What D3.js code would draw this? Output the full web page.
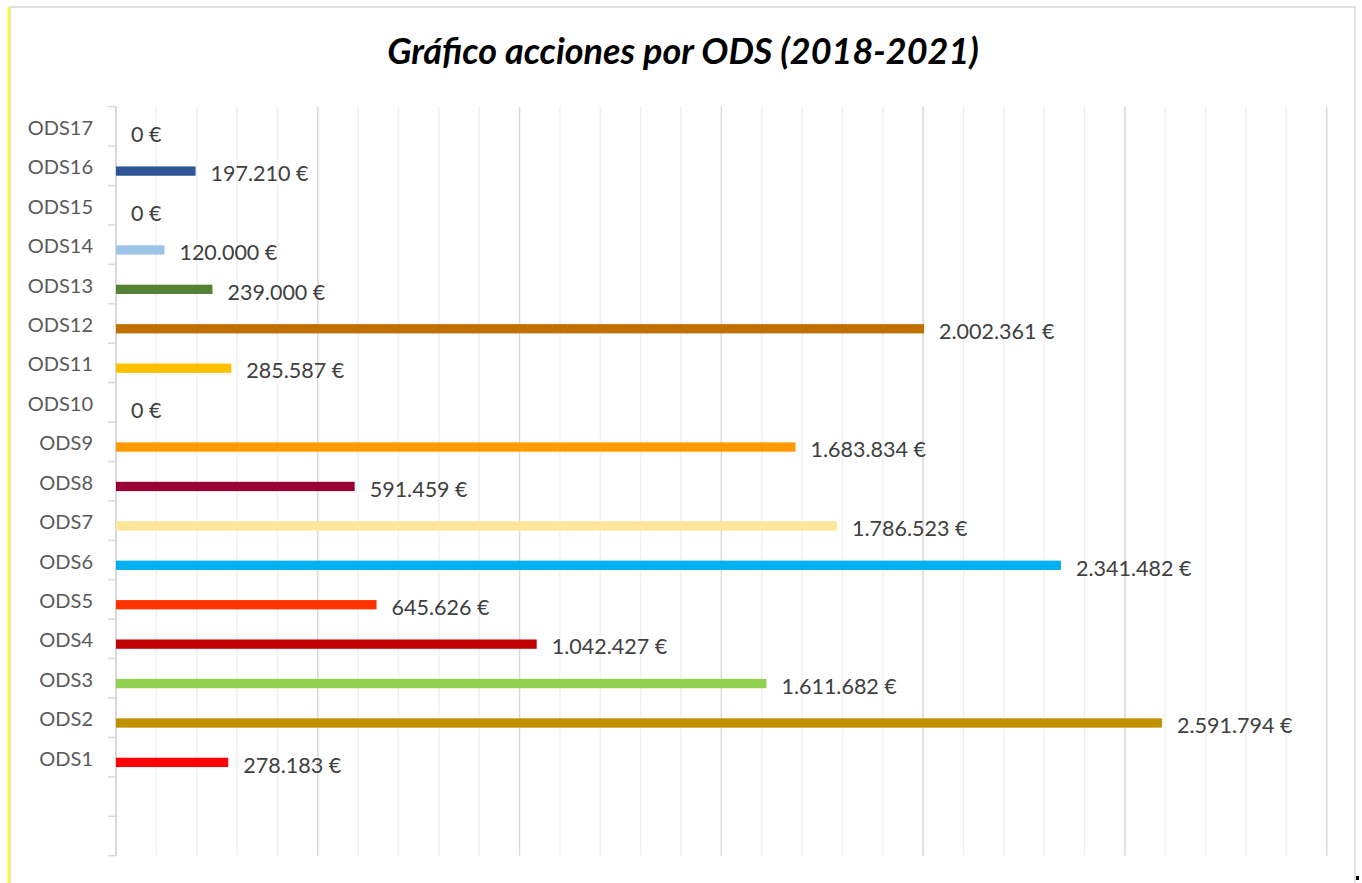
<!DOCTYPE html>
<html>
<head>
<meta charset="utf-8">
<script src="https://cdn.jsdelivr.net/npm/d3@7"></script>
<style>
  html, body { margin: 0; padding: 0; background: #ffffff; }
  svg { display: block; }
</style>
</head>
<body>
<svg id="chart" width="1362" height="883"></svg>
<script>
// ---- data ----
const title = "Gráfico acciones por ODS (2018-2021)";
const categories = ["ODS1","ODS2","ODS3","ODS4","ODS5","ODS6","ODS7","ODS8","ODS9",
                    "ODS10","ODS11","ODS12","ODS13","ODS14","ODS15","ODS16","ODS17"];
const values = [278183, 2591794, 1611682, 1042427, 645626, 2341482, 1786523, 591459,
                1683834, 0, 285587, 2002361, 239000, 120000, 0, 197210, 0];
const colors = ["#FF0000","#BF9000","#92D050","#C00000","#FF3300","#00B0F0","#FFE699",
                "#990033","#FF9900","#FFC000","#FFC000","#BF7000","#548235","#9DC3E6",
                "#2F5597","#2F5597","#2F5597"];
const emptyBands = ["_e1","_e2"];   // two empty category slots below ODS1
const xMax = 3000000;

const svg = d3.select("#chart");
const W = 1362, H = 883;

// frame
svg.append("rect").attr("x", 10).attr("y", 7).attr("width", 1345).attr("height", 900)
  .attr("fill", "#ffffff").attr("stroke", "#d9d9d9").attr("stroke-width", 1.5);
svg.append("line").attr("x1", 8.5).attr("x2", 8.5).attr("y1", 7).attr("y2", H)
  .attr("stroke", "#FFFF00").attr("stroke-width", 2);
svg.append("rect").attr("x", 1356).attr("y", 876).attr("width", 3).attr("height", 4).attr("fill", "#000");

// title
svg.append("text").attr("x", 683).attr("y", 64)
  .attr("text-anchor", "middle")
  .attr("font-family", "Lato, 'Open Sans', sans-serif")
  .attr("font-weight", "bold").attr("font-style", "italic")
  .attr("font-size", 36).attr("fill", "#000000")
  .text(title);

// scales
const plotLeft = 116, plotRight = 1326.7, plotTop = 106.7, plotBottom = 855.7;
const x = d3.scaleLinear().domain([0, xMax]).range([plotLeft, plotRight]);
const bandDomain = categories.slice().reverse().concat(emptyBands);
const y = d3.scaleBand().domain(bandDomain).range([plotTop, plotBottom]).paddingInner(0).paddingOuter(0);

// gridlines
const gridVals = d3.range(100000, xMax + 1, 100000);
svg.append("g").selectAll("line").data(gridVals).join("line")
  .attr("x1", d => x(d)).attr("x2", d => x(d))
  .attr("y1", plotTop).attr("y2", plotBottom)
  .attr("stroke", d => (d % 500000 === 0) ? "#d9d9d9" : "#f0f0f0")
  .attr("stroke-width", 1.5);

// y axis line + boundary ticks
svg.append("line").attr("x1", plotLeft).attr("x2", plotLeft)
  .attr("y1", plotTop).attr("y2", plotBottom)
  .attr("stroke", "#d9d9d9").attr("stroke-width", 2);
const boundaries = bandDomain.map(d => y(d)).concat([plotBottom]);
svg.append("g").selectAll("line").data(boundaries).join("line")
  .attr("x1", 108).attr("x2", plotLeft)
  .attr("y1", d => d).attr("y2", d => d)
  .attr("stroke", "#d9d9d9").attr("stroke-width", 1.5);

// category labels
svg.append("g").selectAll("text").data(categories).join("text")
  .attr("x", 93)
  .attr("y", d => y(d) + y.bandwidth() / 2 + 1.5)
  .attr("dy", "0.35em")
  .attr("text-anchor", "end")
  .attr("font-family", "Lato, 'Open Sans', sans-serif")
  .attr("font-size", 20).attr("fill", "#595959")
  .text(d => d);

// bars
const barH = 9.3;
const rows = categories.map((c, i) => ({ c, v: values[i], col: colors[i] }));
svg.append("g").selectAll("rect").data(rows.filter(r => r.v > 0)).join("rect")
  .attr("x", x(0))
  .attr("y", r => y(r.c) + y.bandwidth() / 2 + 0.6)
  .attr("width", r => x(r.v) - x(0))
  .attr("height", barH)
  .attr("fill", r => r.col);

// value labels
const fmt = v => d3.format(",")(v).replace(/,/g, ".") + " €";
svg.append("g").selectAll("text").data(rows).join("text")
  .attr("x", r => x(r.v) + 15)
  .attr("y", r => y(r.c) + y.bandwidth() / 2 + 8)
  .attr("dy", "0.35em")
  .attr("font-family", "Lato, 'Open Sans', sans-serif")
  .attr("font-size", 21.5).attr("fill", "#404040")
  .text(r => fmt(r.v));
</script>
</body>
</html>
